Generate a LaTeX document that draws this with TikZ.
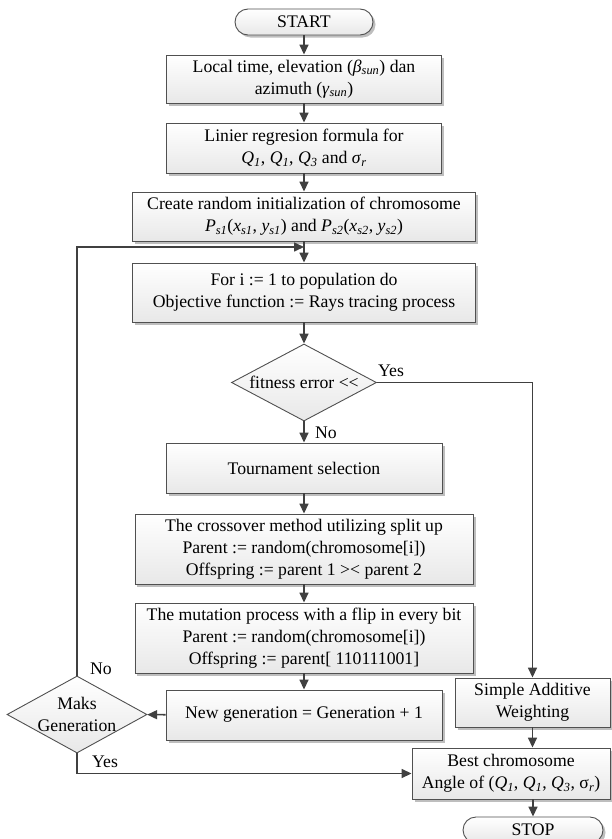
\documentclass[tikz,border=0pt]{standalone}
\usepackage{fontspec}
\setmainfont{Liberation Serif}
\usetikzlibrary{arrows.meta,shapes.geometric,shadows}
\definecolor{ln}{HTML}{404040}
\definecolor{bd}{HTML}{505050}
\definecolor{shd}{HTML}{BEBEBE}
\newcommand\sbi[1]{\textsubscript{\itshape #1}}
\begin{document}
\begin{tikzpicture}[x=1bp,y=-1bp,
  font=\fontsize{17.7bp}{22bp}\selectfont,
  base/.style={draw=bd, line width=0.9bp, top color=white, bottom color=black!9,
    align=center, inner sep=2bp,
    drop shadow={shadow xshift=2.5bp, shadow yshift=-2.5bp, fill=shd, opacity=1}},
  procbox/.style={base, rectangle},
  termbox/.style={base, rectangle, rounded corners=13bp, minimum width=138bp, minimum height=26bp},
  decbox/.style={draw=bd, line width=0.9bp, top color=white, bottom color=black!9,
    diamond, inner sep=0pt},
  conn/.style={draw=ln, line width=1.6bp, -{Triangle[length=10bp,width=9bp]}},
  plain/.style={draw=ln, line width=1.6bp},
  lbl/.style={inner sep=0pt, anchor=base west}
]
\useasboundingbox (0,0) rectangle (612,839);
\clip (0,0) rectangle (612,839);

\node[termbox] (start) at (304,22) {START};
\node[procbox, minimum width=275bp, minimum height=48bp] (b1) at (304,79)
  {Local time, elevation (\textit{β}\sbi{sun}) dan\\ azimuth (\textit{γ}\sbi{sun})};
\node[procbox, minimum width=275bp, minimum height=50bp] (b2) at (304,148)
  {Linier regresion formula for\\ \textit{Q}\sbi{1}, \textit{Q}\sbi{1}, \textit{Q}\sbi{3} and \textit{σ}\sbi{r}};
\node[procbox, minimum width=343bp, minimum height=49bp] (b3) at (304,216.5)
  {Create random initialization of chromosome\\ \textit{P}\sbi{s1}(\textit{x}\sbi{s1}, \textit{y}\sbi{s1}) and \textit{P}\sbi{s2}(\textit{x}\sbi{s2}, \textit{y}\sbi{s2})};
\node[procbox, minimum width=343bp, minimum height=59bp] (b4) at (304,292.5)
  {For i := 1 to population do\\ Objective function := Rays tracing process};
\node[decbox, minimum width=145bp, minimum height=77bp] (fit) at (304,382.5) {};
\node[inner sep=0pt] (fitt) at (fit.center) {fitness error <{}<};
\node[procbox, minimum width=276bp, minimum height=50bp] (tour) at (304,468)
  {Tournament selection};
\node[procbox, minimum width=338bp, minimum height=70bp] (cross) at (304,549)
  {The crossover method utilizing split up\\ Parent := random(chromosome[i])\\ Offspring := parent 1 >{}< parent 2};
\node[procbox, minimum width=338bp, minimum height=70bp] (mut) at (304,638)
  {The mutation process with a flip in every bit\\ Parent := random(chromosome[i])\\ Offspring := parent[ 110111001]};
\node[procbox, minimum width=276bp, minimum height=50bp] (newg) at (304,715)
  {New generation = Generation + 1};
\node[decbox, minimum width=140bp, minimum height=77bp] (maks) at (77,714.5) {};
\node[inner sep=0pt, align=center] (makst) at (maks.center) {Maks\\ Generation};
\node[procbox, minimum width=155bp, minimum height=49bp] (saw) at (532.5,702.5)
  {Simple Additive\\ Weighting};
\node[procbox, minimum width=198bp, minimum height=51bp] (best) at (511,773.5)
  {Best chromosome\\ Angle of (\textit{Q}\sbi{1}, \textit{Q}\sbi{1}, \textit{Q}\sbi{3}, σ\sbi{r})};
\node[termbox, minimum width=140bp] (stop) at (533,830) {STOP};

\coordinate (join) at (304,247);

\draw[conn] (start) -- (b1);
\draw[conn] (b1) -- (b2);
\draw[conn] (b2) -- (b3);
\draw[conn] (b3) -- (b4);
\draw[conn] (b4) -- (fit);
\draw[conn] (fit) -- (tour);
\draw[conn] (tour) -- (cross);
\draw[conn] (cross) -- (mut);
\draw[conn] (mut) -- (newg);
\draw[conn] (newg) -- (maks);
\draw[conn] (fit.east) -| (saw.north);
\draw[conn] (saw.south) -- (saw.south |- best.north);
\draw[conn] (stop.north |- best.south) -- (stop.north);
\draw[conn] (maks.south) |- (best.west);
\draw[conn] (maks.north) |- (join);

\node[lbl] (yes1) at (378,376) {Yes};
\node[lbl] (no1) at (315,438) {No};
\node[lbl] (no2) at (90,674) {No};
\node[lbl] (yes2) at (92,767) {Yes};
\end{tikzpicture}
\end{document}
